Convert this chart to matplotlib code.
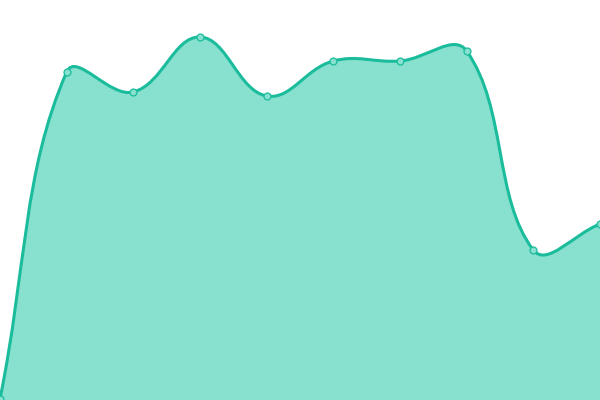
import matplotlib
matplotlib.use("Agg")
import matplotlib.pyplot as plt
import numpy as np
from matplotlib.path import Path
from matplotlib.patches import PathPatch

# data (0..100 scale)
labels = ["p0", "p1", "p2", "p3", "p4", "p5", "p6", "p7", "p8", "p9"]
values = [0.3, 82.0, 77.0, 90.75, 76.0, 84.75, 84.75, 87.25, 37.5, 44.0]

LINE = "#1abc9c"
FILL = "#88e0cf"
TENSION = 0.4

W, H = 600, 400
Y_MIN, Y_MAX = 0, 100


def to_px(i, v):
    return i * W / (len(values) - 1), (v - Y_MIN) / (Y_MAX - Y_MIN) * H


def control_points(pts, t):
    # chart.js style spline control points
    cps = []
    n = len(pts)
    for i in range(n):
        cur = pts[i]
        prev = pts[i - 1] if i > 0 else cur
        nxt = pts[i + 1] if i < n - 1 else cur
        d01 = np.hypot(*(cur - prev))
        d12 = np.hypot(*(nxt - cur))
        tot = d01 + d12
        s01 = d01 / tot if tot else 0
        s12 = d12 / tot if tot else 0
        fa, fb = t * s01, t * s12
        cps.append((cur - fa * (nxt - prev), cur + fb * (nxt - prev)))
    return cps


pts = np.array([to_px(i, v) for i, v in enumerate(values)])
cps = control_points(pts, TENSION)

verts = [tuple(pts[0])]
codes = [Path.MOVETO]
for i in range(len(pts) - 1):
    verts += [tuple(cps[i][1]), tuple(cps[i + 1][0]), tuple(pts[i + 1])]
    codes += [Path.CURVE4] * 3

fig = plt.figure(figsize=(6, 4), dpi=100)
ax = fig.add_axes([0, 0, 1, 1])
ax.set_xlim(0, W)
ax.set_ylim(0, H)
ax.axis("off")

fill_verts = verts + [(W, 0), (0, 0), verts[0]]
fill_codes = codes + [Path.LINETO, Path.LINETO, Path.CLOSEPOLY]
ax.add_patch(PathPatch(Path(fill_verts, fill_codes), facecolor=FILL, edgecolor="none"))
ax.add_patch(PathPatch(Path(verts, codes), facecolor="none", edgecolor=LINE, lw=2.2,
                       capstyle="round", joinstyle="round"))
ax.plot(pts[:, 0], pts[:, 1], "o", ms=5, mfc=FILL, mec=LINE, mew=0.9, clip_on=False)

fig.savefig("out.png", dpi=100)
